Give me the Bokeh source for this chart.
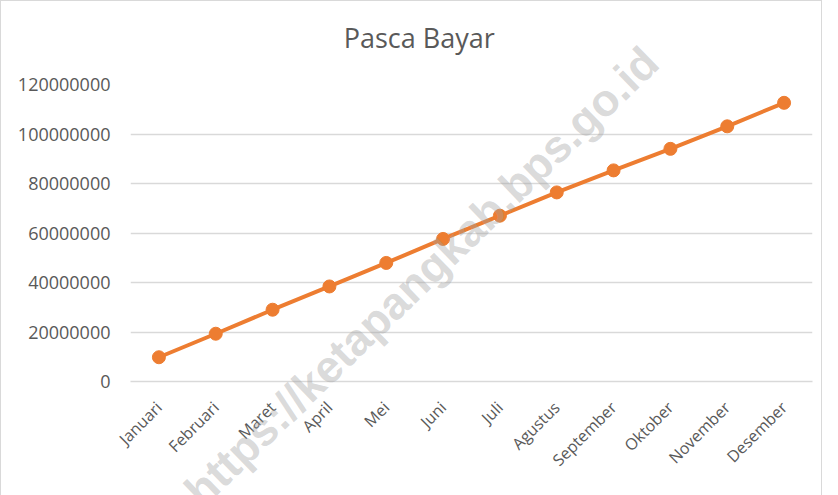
from bokeh.plotting import figure
from bokeh.models import Range1d, FixedTicker, NumeralTickFormatter, Label
from bokeh.embed import file_html
from bokeh.resources import INLINE
import math

# ---- data ----
months = ["Januari", "Februari", "Maret", "April", "Mei", "Juni", "Juli",
          "Agustus", "September", "Oktober", "November", "Desember"]
values = [9.8e6, 19.3e6, 29.0e6, 38.4e6, 47.9e6, 57.6e6, 67.0e6,
          76.4e6, 85.3e6, 94.0e6, 103.1e6, 112.6e6]
y_ticks = [0, 20000000, 40000000, 60000000, 80000000, 100000000, 120000000]
title_text = "Pasca Bayar"
watermark = "https://ketapangkab.bps.go.id"

GRID = "#d9d9d9"
TXT = "#595959"
ORANGE = "#ED7D31"

p = figure(x_range=months, y_range=Range1d(0, 120000000),
           frame_width=682, frame_height=297,
           min_border_left=129, min_border_right=9,
           min_border_top=83, min_border_bottom=97,
           output_backend="svg", toolbar_location=None, title=None)
p.outline_line_color = None
p.background_fill_color = "white"
p.border_fill_color = "white"

p.line(months, values, line_color=ORANGE, line_width=4)
p.scatter(months, values, size=13, fill_color=ORANGE, line_color=ORANGE)

# chart title, centred over the whole chart (side panel -> not clipped)
title = Label(x=5.08, y=139.0e6, text=title_text,
              text_align="center", text_baseline="alphabetic",
              text_font="Open Sans", text_font_size="27px",
              text_color=TXT)
p.add_layout(title, "above")

# watermark overlaying the chart (placed in a side panel so it is not clipped)
wm = Label(x=5.12, y=42.5e6, text=watermark, angle=44, angle_units="deg",
           text_align="center", text_baseline="middle",
           text_font="Liberation Sans", text_font_style="bold",
           text_font_size="45px", text_color="#a0a0a0", text_alpha=0.4)
p.add_layout(wm, "below")

p.xgrid.grid_line_color = None
p.ygrid.grid_line_color = GRID
p.ygrid.grid_line_width = 1.3

p.yaxis.ticker = FixedTicker(ticks=y_ticks)
p.yaxis.formatter = NumeralTickFormatter(format="0")
p.yaxis.axis_line_color = None
p.yaxis.major_tick_line_color = None
p.yaxis.minor_tick_line_color = None
p.yaxis.major_tick_out = 0
p.yaxis.major_label_standoff = 20
p.yaxis.major_label_text_font = "Open Sans"
p.yaxis.major_label_text_font_size = "18px"
p.yaxis.major_label_text_color = TXT

p.xaxis.axis_line_color = GRID
p.xaxis.axis_line_width = 1.3
p.xaxis.major_tick_line_color = None
p.xaxis.minor_tick_line_color = None
p.xaxis.major_tick_out = 0
p.xaxis.major_label_orientation = math.pi / 4
p.xaxis.major_label_standoff = 23
p.xaxis.major_label_text_font = "Open Sans"
p.xaxis.major_label_text_font_size = "16px"
p.xaxis.major_label_text_color = TXT

p.styles = {"border": "1px solid #d9d9d9"}

open("out.html", "w").write(file_html(p, INLINE))
